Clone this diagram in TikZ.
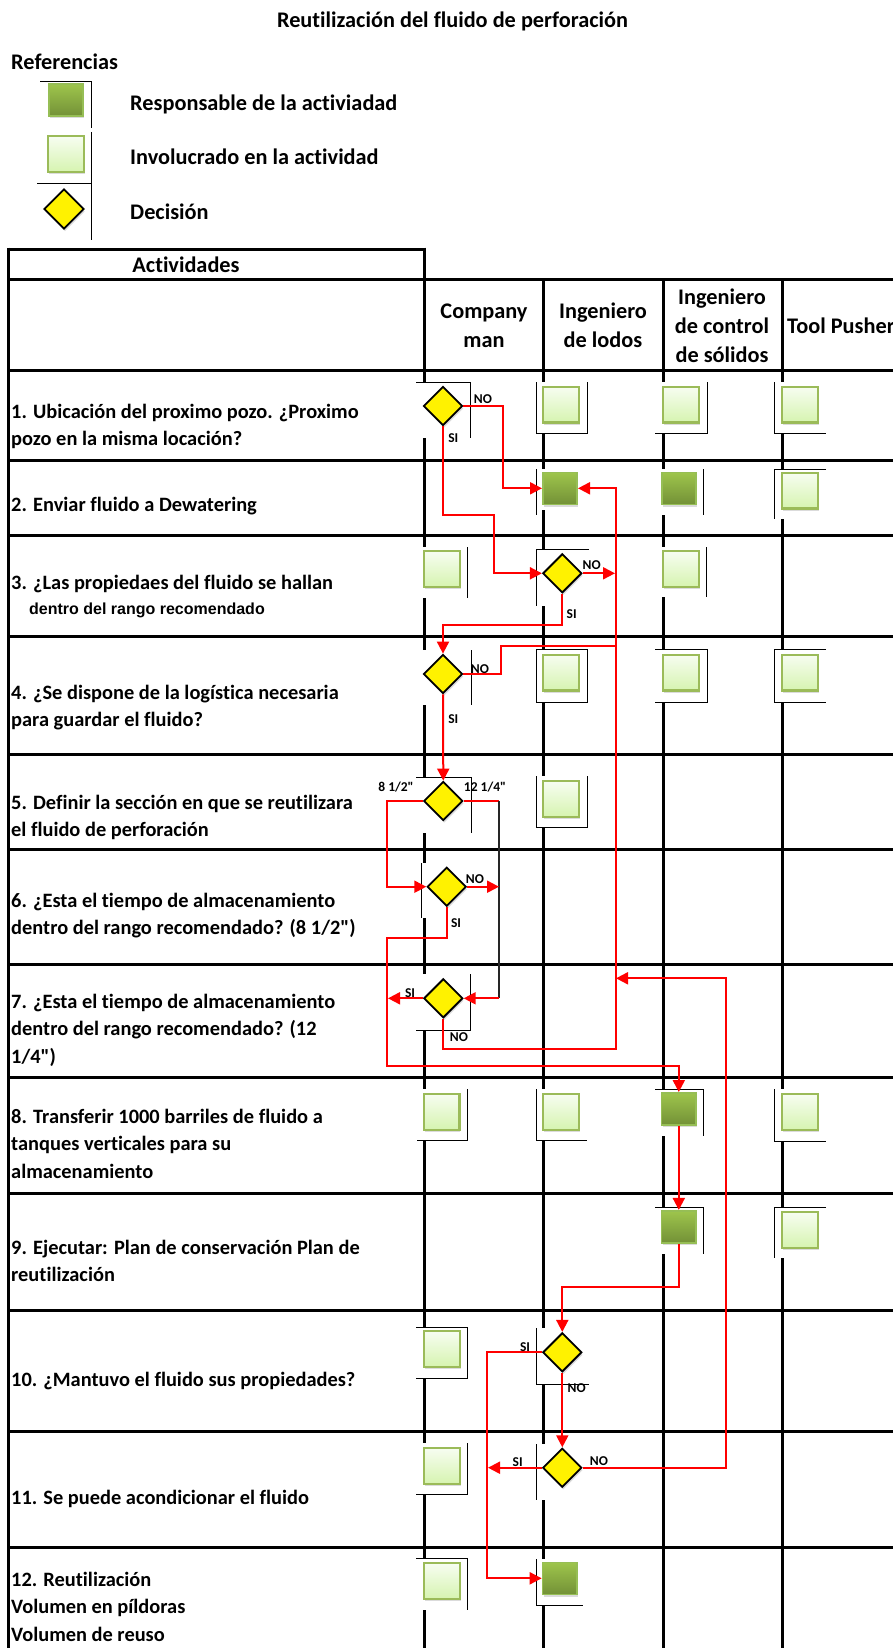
\documentclass[tikz,border=0pt]{standalone}
\usepackage{fontspec}
\setmainfont{Carlito}[Ligatures={NoCommon,TeXOff}]
\newfontfamily\arialf{Liberation Sans}
\usetikzlibrary{shapes.geometric,arrows.meta,shadows}
\definecolor{lgtop}{RGB}{247,253,241}
\definecolor{lgbot}{RGB}{214,244,176}
\definecolor{lgborder}{RGB}{155,187,89}
\definecolor{dgtop}{RGB}{158,197,76}
\definecolor{dgbot}{RGB}{115,145,55}
\definecolor{dgborder}{RGB}{150,190,85}
\begin{document}
\begin{tikzpicture}[x=1pt,y=-1pt,
  gridl/.style={line width=3pt},
  thinl/.style={line width=0.9pt},
  cellbg/.style={fill=white},
  rline/.style={draw=red,line width=2pt},
  conn/.style={rline,-{Triangle[length=12pt,width=12pt]}},
  shad/.style={drop shadow={opacity=0.28,shadow xshift=1pt,shadow yshift=-2.5pt}},
  lbox/.style={rectangle,draw=lgborder,line width=2.2pt,top color=lgtop,bottom color=lgbot,minimum width=35.8pt,minimum height=35.8pt,inner sep=0pt,shad},
  dbox/.style={rectangle,draw=dgborder,line width=1.6pt,top color=dgtop,bottom color=dgbot,minimum width=34.4pt,minimum height=32pt,inner sep=0pt,shad},
  dec/.style={diamond,draw=black,line width=1.8pt,fill=yellow,minimum size=39pt,inner sep=0pt,aspect=1,shad},
  rowtxt/.style={anchor=base west,align=left,inner sep=0pt,font=\bfseries\fontsize{20.4}{27.5}\selectfont},
  bigtxt/.style={inner sep=0pt,font=\bfseries\fontsize{22.3}{29}\selectfont},
  hdr/.style={align=center,inner sep=0pt,font=\bfseries\fontsize{22.3}{29}\selectfont},
  lbl/.style={inner sep=0pt,font=\bfseries\fontsize{13.5}{14}\selectfont}
]
\useasboundingbox (0,0) rectangle (893,1648);
\fill[white] (0,0) rectangle (893,1648);

% ---------- title and legend ----------
\node[bigtxt] (title) at (452.5,21) {Reutilización del fluido de perforación};
\node[bigtxt,anchor=base west] (refs) at (11,70) {Referencias};
\draw[thinl] (40,81) -- (91,81) -- (91,128);
\draw[thinl] (91,132) -- (91,240);
\draw[thinl] (37,183) -- (91,183);
\node[dbox] (legR) at (66,100) {};
\node[lbox] (legI) at (66,154) {};
\node[dec,minimum size=40pt] (legD) at (64,209) {};
\node[bigtxt,anchor=base west] (legRt) at (130,111) {Responsable de la activiadad};
\node[bigtxt,anchor=base west] (legIt) at (130,165) {Involucrado en la actividad};
\node[bigtxt,anchor=base west] (legDt) at (130,219) {Decisión};

% ---------- grid ----------
\draw[gridl] (7,249) -- (425.5,249);
\foreach \yy in {279,370,460,535.5,636.5,754,849,964,1077.5,1193,1310.5,1431,1547}
  \draw[gridl] (7,\yy) -- (893,\yy);
\draw[gridl] (8.5,247.5) -- (8.5,1648);
\draw[gridl] (424,247.5) -- (424,1648);
\foreach \xx in {543.7,663.3,782}
  \draw[gridl] (\xx,279) -- (\xx,1648);

% ---------- header texts ----------
\node[bigtxt] (hAct) at (186,265) {Actividades};
\node[hdr] (hCM) at (484,325.5) {Company\\man};
\node[hdr] (hLO) at (603,325.5) {Ingeniero\\de lodos};
\node[hdr] (hSC) at (722,326) {Ingeniero\\de control\\de sólidos};
\node[bigtxt,anchor=west] (hTP) at (787,326) {Tool Pusher};

% ---------- row texts (base = baseline of last line) ----------
\node[rowtxt] (t1) at (11,445.5) {1. Ubicación del proximo pozo. ¿Proximo\\pozo en la misma locación?};
\node[rowtxt] (t2) at (11,511) {2. Enviar fluido a Dewatering};
\node[rowtxt] (t3) at (11,589) {3. ¿Las propiedaes del fluido se hallan};
\node[anchor=base west,inner sep=0pt,font=\arialf\bfseries\fontsize{16}{17}\selectfont] (t3b) at (29,614) {dentro del rango recomendado};
\node[rowtxt] (t4) at (11,726.5) {4. ¿Se dispone de la logística necesaria\\para guardar el fluido?};
\node[rowtxt] (t5) at (11,836.5) {5. Definir la sección en que se reutilizara\\el fluido de perforación};
\node[rowtxt] (t6) at (11,934.5) {6. ¿Esta el tiempo de almacenamiento\\dentro del rango recomendado? (8 1/2")};
\node[rowtxt] (t7) at (11,1063) {7. ¿Esta el tiempo de almacenamiento\\dentro del rango recomendado? (12\\1/4")};
\node[rowtxt] (t8) at (11,1178) {8. Transferir 1000 barriles de fluido a\\tanques verticales para su\\almacenamiento};
\node[rowtxt] (t9) at (11,1281.5) {9. Ejecutar: Plan de conservación Plan de\\reutilización};
\node[rowtxt] (t10) at (11,1386) {10. ¿Mantuvo el fluido sus propiedades?};
\node[rowtxt] (t11) at (11,1504) {11. Se puede acondicionar el fluido};
\node[rowtxt] (t12) at (11,1641) {12. Reutilización\\Volumen en píldoras\\Volumen de reuso};

% ---------- cell backgrounds and thin frames ----------
% row 1
\fill[cellbg] (416,382) rectangle (470,438); \draw[thinl] (416,382) -- (470,382) -- (470,438);
\fill[cellbg] (536,382) rectangle (587,433); \draw[thinl] (536,382) -- (536,433) -- (587,433) -- (587,382);
\fill[cellbg] (655,382) rectangle (707,433); \draw[thinl] (655,433) -- (707,433) -- (707,382);
\fill[cellbg] (774,382) rectangle (826,433); \draw[thinl] (774,382) -- (774,433) -- (826,433);
% row 2
\fill[cellbg] (536,469) rectangle (585,510); \draw[thinl] (536,469) -- (536,515);
\fill[cellbg] (655,469) rectangle (703,515); \draw[thinl] (703,469) -- (703,515);
\fill[cellbg] (774,469) rectangle (826,519); \draw[thinl] (826,469) -- (774,469) -- (774,519);
% row 3
\fill[cellbg] (416,547) rectangle (467,598); \draw[thinl] (467,547) -- (467,598);
\fill[cellbg] (536,549) rectangle (589,606); \draw[thinl] (589,549) -- (536,549) -- (536,606);
\fill[cellbg] (655,547) rectangle (706,597); \draw[thinl] (706,547) -- (706,597);
% row 4
\fill[cellbg] (416,650) rectangle (471,705); \draw[thinl] (471,650) -- (471,705);
\fill[cellbg] (536,649) rectangle (587,702); \draw[thinl] (536,649) rectangle (587,702);
\fill[cellbg] (655,649) rectangle (707,702); \draw[thinl] (655,649) -- (707,649) -- (707,702) -- (655,702);
\fill[cellbg] (774,649) rectangle (826,702); \draw[thinl] (826,649) -- (774,649) -- (774,702) -- (826,702);
% row 5
\fill[cellbg] (416,777) rectangle (471,833); \draw[thinl] (416,777) -- (471,777) -- (471,833);
\fill[cellbg] (536,776) rectangle (587,827); \draw[thinl] (536,776) -- (536,827) -- (587,827) -- (587,776);
% row 6
\fill[cellbg] (421,863) rectangle (468,918); \draw[thinl] (421,863) -- (421,918);
% row 7
\fill[cellbg] (416,974) rectangle (470,1030); \draw[thinl] (470,974) -- (470,1030) -- (416,1030);
% row 8
\fill[cellbg] (417,1089) rectangle (467,1140); \draw[thinl] (467,1089) -- (467,1140) -- (417,1140);
\fill[cellbg] (536,1089) rectangle (587,1140); \draw[thinl] (536,1089) -- (536,1140) -- (587,1140);
\fill[cellbg] (655,1089) rectangle (703,1136); \draw[thinl] (655,1089) -- (703,1089) -- (703,1136);
\fill[cellbg] (774,1089) rectangle (826,1141); \draw[thinl] (774,1089) -- (774,1141) -- (826,1141);
% row 9
\fill[cellbg] (655,1207) rectangle (703,1254); \draw[thinl] (655,1207) -- (703,1207) -- (703,1254);
\fill[cellbg] (774,1207) rectangle (826,1258); \draw[thinl] (826,1207) -- (774,1207) -- (774,1258);
% row 10
\fill[cellbg] (416,1327) rectangle (467,1378); \draw[thinl] (416,1327) -- (467,1327) -- (467,1378) -- (416,1378);
\fill[cellbg] (536,1328) rectangle (589,1384); \draw[thinl] (536,1328) -- (536,1384) -- (589,1384);
% row 11
\fill[cellbg] (416,1443) rectangle (467,1494); \draw[thinl] (467,1443) -- (467,1494) -- (416,1494);
\fill[cellbg] (536,1444) rectangle (585,1500); \draw[thinl] (536,1444) -- (536,1500);
% row 12
\fill[cellbg] (416,1558) rectangle (467,1610); \draw[thinl] (416,1558) -- (467,1558) -- (467,1610);
\fill[cellbg] (536,1559) rectangle (583,1605); \draw[thinl] (536,1559) -- (536,1605) -- (583,1605);

% ---------- shapes ----------
\node[dec]  (d1)   at (443,406) {};
\node[lbox] (r1lo) at (561,404.5) {};
\node[lbox] (r1sc) at (681,404.5) {};
\node[lbox] (r1tp) at (800,404.5) {};

\node[dbox] (r2lo) at (560,488.3) {};
\node[dbox] (r2sc) at (679,488.3) {};
\node[lbox] (r2tp) at (800,490.5) {};

\node[lbox] (r3cm) at (442,569) {};
\node[dec]  (d3)   at (562.3,573.3) {};
\node[lbox] (r3sc) at (681,569) {};

\node[dec]  (d4)   at (443,674) {};
\node[lbox] (r4lo) at (561,672.5) {};
\node[lbox] (r4sc) at (681,672.5) {};
\node[lbox] (r4tp) at (800,672.5) {};

\node[dec]  (d5)   at (443.3,801) {};
\node[lbox] (r5lo) at (561,799) {};

\node[dec]  (d6)   at (446.7,886.7) {};

\node[dec]  (d7)   at (443.3,998.3) {};

\node[lbox] (r8cm) at (441.5,1111.7) {};
\node[lbox] (r8lo) at (561,1111.7) {};
\node[dbox] (r8sc) at (678.8,1108.8) {};
\node[lbox] (r8tp) at (800,1112) {};

\node[dbox] (r9sc) at (678.8,1226.7) {};
\node[lbox] (r9tp) at (800,1230) {};

\node[lbox] (r10cm) at (441.7,1349) {};
\node[dec]  (d10)   at (562.3,1352.3) {};

\node[lbox] (r11cm) at (441.7,1466) {};
\node[dec]  (d11)   at (562.3,1467.7) {};

\node[lbox] (r12cm) at (441.7,1581) {};
\node[dbox] (r12lo) at (559.7,1578.3) {};

% ---------- connectors ----------
\coordinate (k1) at (499,801);
\coordinate (k2) at (499,998.3);
\draw[conn] (d1.east) -- (502.7,406) |- (r2lo.west);
\draw[conn] (d1.south) |- (494.3,515) |- (d3.west);
\draw[conn] (d3.east) -- (615,573.3);
\draw[conn] (d7.south) |- (616,1049) |- (r2lo.east);
\draw[rline] (d4.east) -| (500.7,645.7) -- (616,645.7);
\draw[conn] (d3.south) |- (443,625) -- (d4.north);
\draw[conn] (d4.south) -- (d5.north);
\draw[conn] (d5.west) -- (386.7,801) |- (d6.west);
\draw[rline] (d5.east) -- (k1);
\draw[line width=1.6pt,black!85] (k1) -- (k2);
\draw[conn] (k2) -- (d7.east);
\draw[conn] (d6.east) -- (499,886.7);
\draw[conn] (d6.south) |- (386.7,937.7) |- (678.8,1066) -- (r8sc.north);
\draw[conn] (d7.west) -- (388,998.3);
\draw[conn] (r8sc.south) -- (r9sc.north);
\draw[conn] (r9sc.south) |- (562.3,1286.7) -- (d10.north);
\draw[conn] (d10.south) -- (d11.north);
\draw[conn] (d10.west) -| (486.7,1578.3) -- (r12lo.west);
\draw[conn] (d11.west) -- (488,1467.7);
\draw[conn] (d11.east) -| (726,978.3) -- (616,978.3);

% ---------- decision labels ----------
\node[lbl] (l1n) at (483,399) {NO};
\node[lbl] (l1s) at (453.3,438) {SI};
\node[lbl] (l3n) at (591.7,565) {NO};
\node[lbl] (l3s) at (571.7,614.3) {SI};
\node[lbl] (l4n) at (480,669.3) {NO};
\node[lbl] (l4s) at (453.3,719.3) {SI};
\node[lbl] (l5a) at (396,786.7) {8 1/2"};
\node[lbl] (l5b) at (485,787) {12 1/4"};
\node[lbl] (l6n) at (475,879) {NO};
\node[lbl] (l6s) at (456,922.7) {SI};
\node[lbl] (l7s) at (410,992.7) {SI};
\node[lbl] (l7n) at (459,1036.7) {NO};
\node[lbl] (l10s) at (525,1346.7) {SI};
\node[lbl] (l10n) at (576.7,1387.7) {NO};
\node[lbl] (l11s) at (517.7,1461.7) {SI};
\node[lbl] (l11n) at (599,1460.7) {NO};
\end{tikzpicture}
\end{document}
